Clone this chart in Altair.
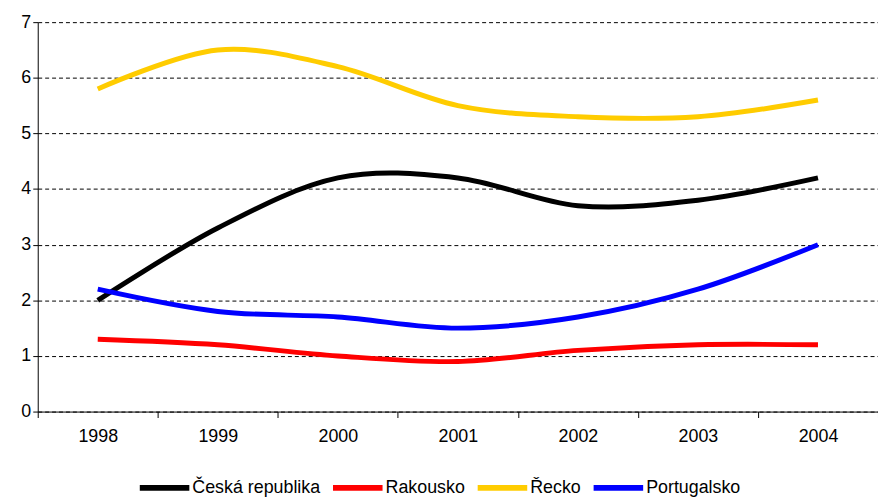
import altair as alt
import pandas as pd

years = ["1998", "1999", "2000", "2001", "2002", "2003", "2004"]
series = ["Česká republika", "Rakousko", "Řecko", "Portugalsko"]
colors = ["#000000", "#ff0000", "#ffcc00", "#0000ff"]
cz = [2.0, 3.3, 4.2, 4.2, 3.7, 3.8, 4.2]
at = [1.3, 1.2, 1.0, 0.9, 1.1, 1.2, 1.2]
gr = [5.8, 6.5, 6.2, 5.5, 5.3, 5.3, 5.6]
pt = [2.2, 1.8, 1.7, 1.5, 1.7, 2.2, 3.0]

rows = []
for name, vals in zip(series, [cz, at, gr, pt]):
    for y, v in zip(years, vals):
        rows.append({"year": y, "value": v, "series": name})
df = pd.DataFrame(rows)

font = "Liberation Sans"

chart = alt.Chart(df).mark_line(strokeWidth=5, interpolate="cardinal").encode(
    x=alt.X("year:N", title=None, scale=alt.Scale(paddingInner=0, paddingOuter=0),
            axis=alt.Axis(labelAngle=0, tickBand="extent", tickSize=6, tickColor="black",
                          domainColor="black", labelColor="black", labelFontSize=18,
                          labelFont=font, labelPadding=10)),
    y=alt.Y("value:Q", title=None, scale=alt.Scale(domain=[0, 7]),
            axis=alt.Axis(tickCount=7, grid=True, gridColor="black", gridDash=[4, 3],
                          tickSize=5, tickColor="black", domainColor="black",
                          labelColor="black", labelFontSize=18, labelFont=font)),
    color=alt.Color("series:N", title=None, sort=series,
                    scale=alt.Scale(domain=series, range=colors),
                    legend=alt.Legend(orient="none", legendX=100, legendY=442, direction="horizontal",
                                      symbolType="stroke", symbolStrokeWidth=6, symbolSize=2500,
                                      labelFontSize=18, labelFont=font, labelColor="black",
                                      columnPadding=0, labelOffset=0)),
).properties(width=848, height=393, autosize="none",
             padding={"left": 30, "top": 12, "right": 0, "bottom": 91}
).configure_view(stroke=None)

chart.save("out.html", embed_options={"renderer": "svg", "actions": False})
